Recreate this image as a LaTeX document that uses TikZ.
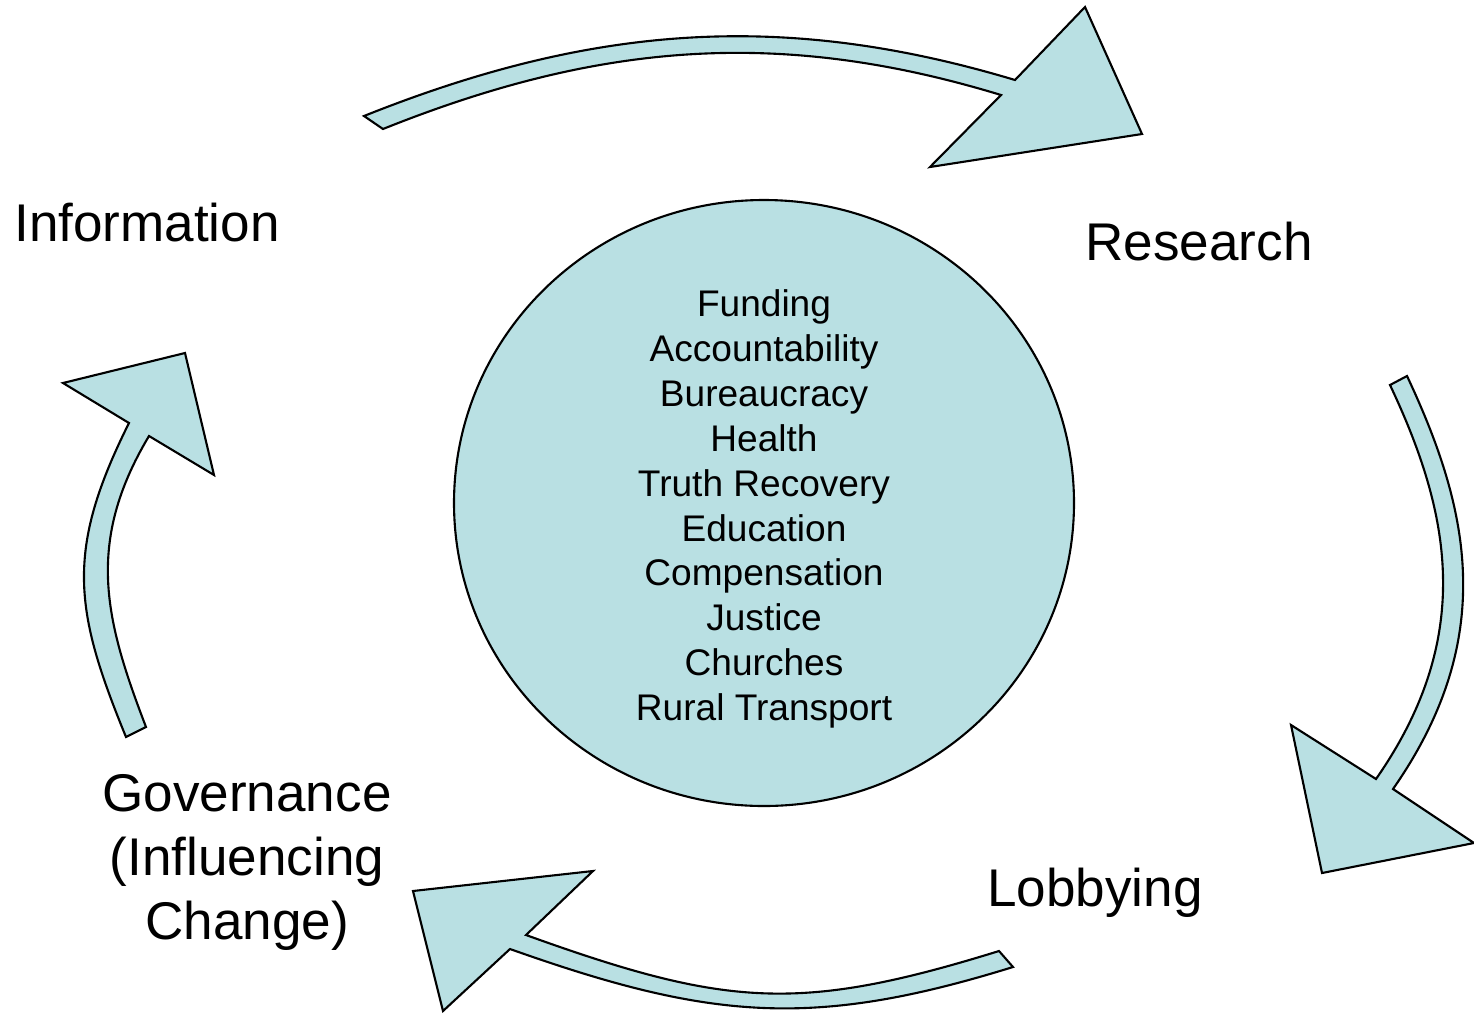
\documentclass[tikz,border=0pt]{standalone}
\usepackage{xcolor}
\usepackage{fontspec}
\setmainfont{Liberation Sans}
\definecolor{CycleTeal}{RGB}{185,224,227}
\usetikzlibrary{shapes.geometric}

\begin{document}
\begin{tikzpicture}[x=0.1mm, y=-0.1mm, cyclearrow/.style={draw=black, fill=CycleTeal, line width=0.6pt}, hub/.style={ellipse, draw=black, fill=CycleTeal, line width=0.6pt, minimum width=62mm, minimum height=60.6mm, inner sep=0pt}, issuelist/.style={inner sep=0pt, align=center, font=\fontsize{10.55pt}{12.75pt}\selectfont}, stage/.style={inner sep=0pt, align=center, font=\fontsize{15.1pt}{18.2pt}\selectfont}]
        \useasboundingbox (0,0) rectangle (1474,1012);

        \node[hub] (hub) at (764,503) {};
        \node[issuelist] (issues) at (764,509) {Funding\\Accountability\\Bureaucracy\\Health\\Truth Recovery\\Education\\Compensation\\Justice\\Churches\\Rural Transport};

        \node[stage, anchor=base] (info) at (147,241) {Information};
        \node[stage, anchor=base] (research) at (1199,260) {Research};
        \node[stage, anchor=base] (lobby) at (1095,906) {Lobbying};
        \node[stage] (govern) at (247,862) {Governance\\(Influencing\\Change)};

        \draw[cyclearrow] (364,116) .. controls (594,24) and (785,11) .. (1015,80) -- (1085,7) -- (1142,134) -- (930,167) -- (1001,95) .. controls (781,28) and (600,42) .. (383,129) -- cycle;
        \draw[cyclearrow] (1407,376) .. controls (1469,508) and (1499,637) .. (1393,789) -- (1474,843) -- (1322,873) -- (1291,725) -- (1376,779) .. controls (1475,637) and (1451,514) .. (1390,385) -- cycle;
        \draw[cyclearrow] (1013,967) .. controls (813,1029) and (710,1020) .. (510,949) -- (443,1011) -- (413,891) -- (593,871) -- (526,935) .. controls (726,1007) and (799,1013) .. (999,951) -- cycle;
        \draw[cyclearrow] (126,737) .. controls (74,610) and (65,551) .. (129,423) -- (63,383) -- (185,353) -- (214,475) -- (149,436) .. controls (85,543) and (105,620) .. (146,727) -- cycle;
    \end{tikzpicture}
\end{document}
